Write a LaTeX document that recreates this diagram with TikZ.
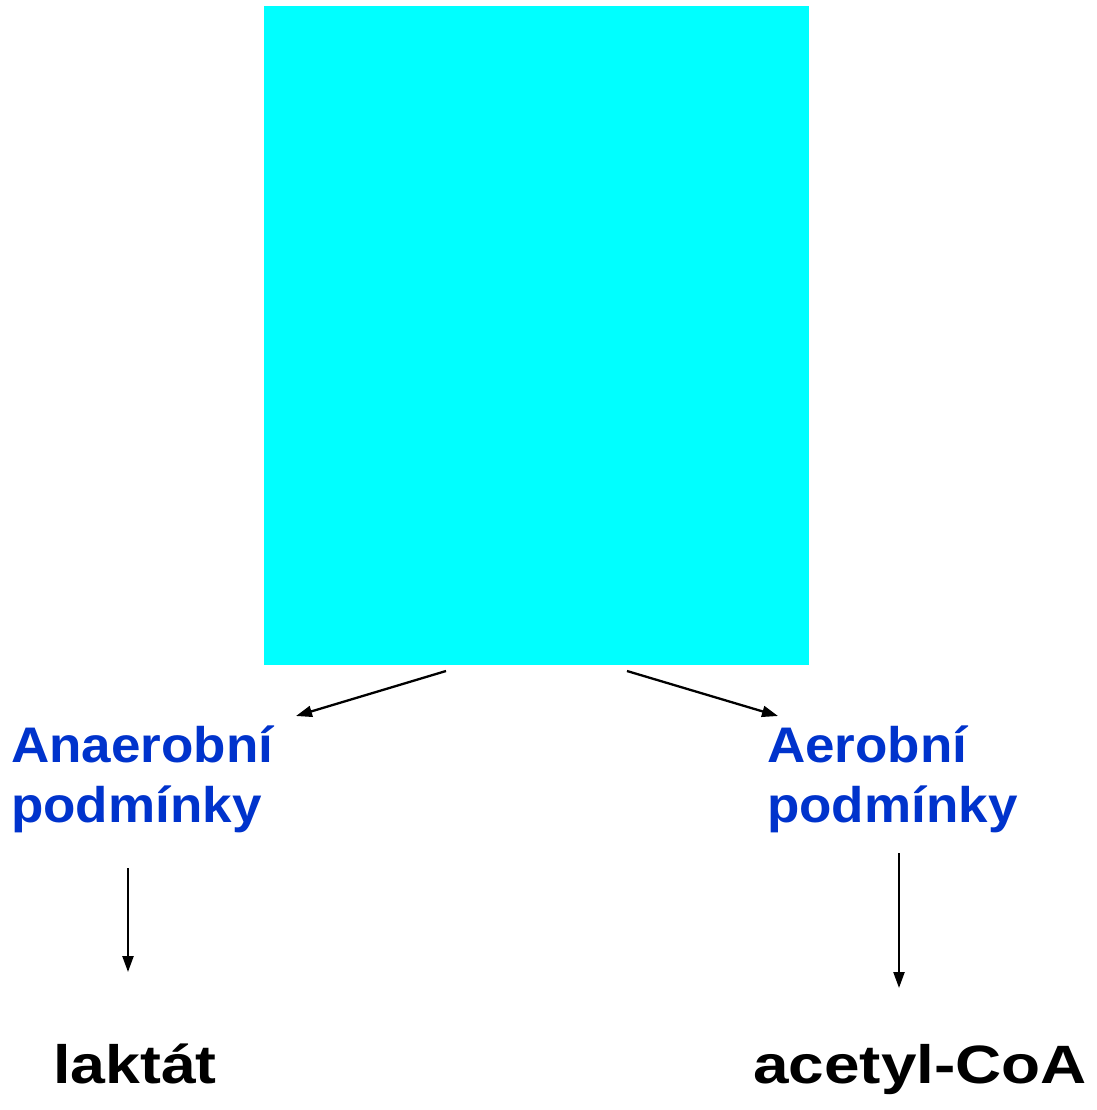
\documentclass[tikz,border=0pt]{standalone}
\usepackage{fontspec}
\setmainfont{Liberation Sans}
\usetikzlibrary{arrows.meta,calc}
\definecolor{labelblue}{HTML}{0033CC}
\definecolor{boxcyan}{HTML}{00FFFF}
\begin{document}
\begin{tikzpicture}[x=1pt,y=-1pt,
  arr/.style={line width=2.3pt,-{Triangle[length=16pt,width=11pt]}},
  cond/.style={font=\bfseries\fontsize{50}{60}\selectfont,text=labelblue,inner sep=0pt,anchor=north west,align=left,xscale=1.06},
  prod/.style={font=\bfseries\fontsize{54}{60}\selectfont,text=black,inner sep=0pt,anchor=base west,xscale=1.16}]
\useasboundingbox (0,0) rectangle (1096,1110);
\fill[boxcyan] (264,6) rectangle (809,665);
\node[minimum width=545pt,minimum height=659pt,inner sep=0pt,anchor=north west] (box) at (264,6) {};
\node[cond] (anaer) at (11,726) {Anaerobní\\podmínky};
\node[cond] (aer) at (767,726) {Aerobní\\podmínky};
\node[prod] (lak) at (53,1083) {laktát};
\node[prod,xscale=1.02] (acoa) at (753,1083) {acetyl-CoA};
\coordinate (s1) at (446,671);
\coordinate (s2) at (627,671);
\draw[arr] (s1) -- (296,716);
\draw[arr] (s2) -- (778,716);
\draw[arr] (128,868) -- (128,972);
\draw[arr] (899,853) -- (899,988);
\end{tikzpicture}
\end{document}
